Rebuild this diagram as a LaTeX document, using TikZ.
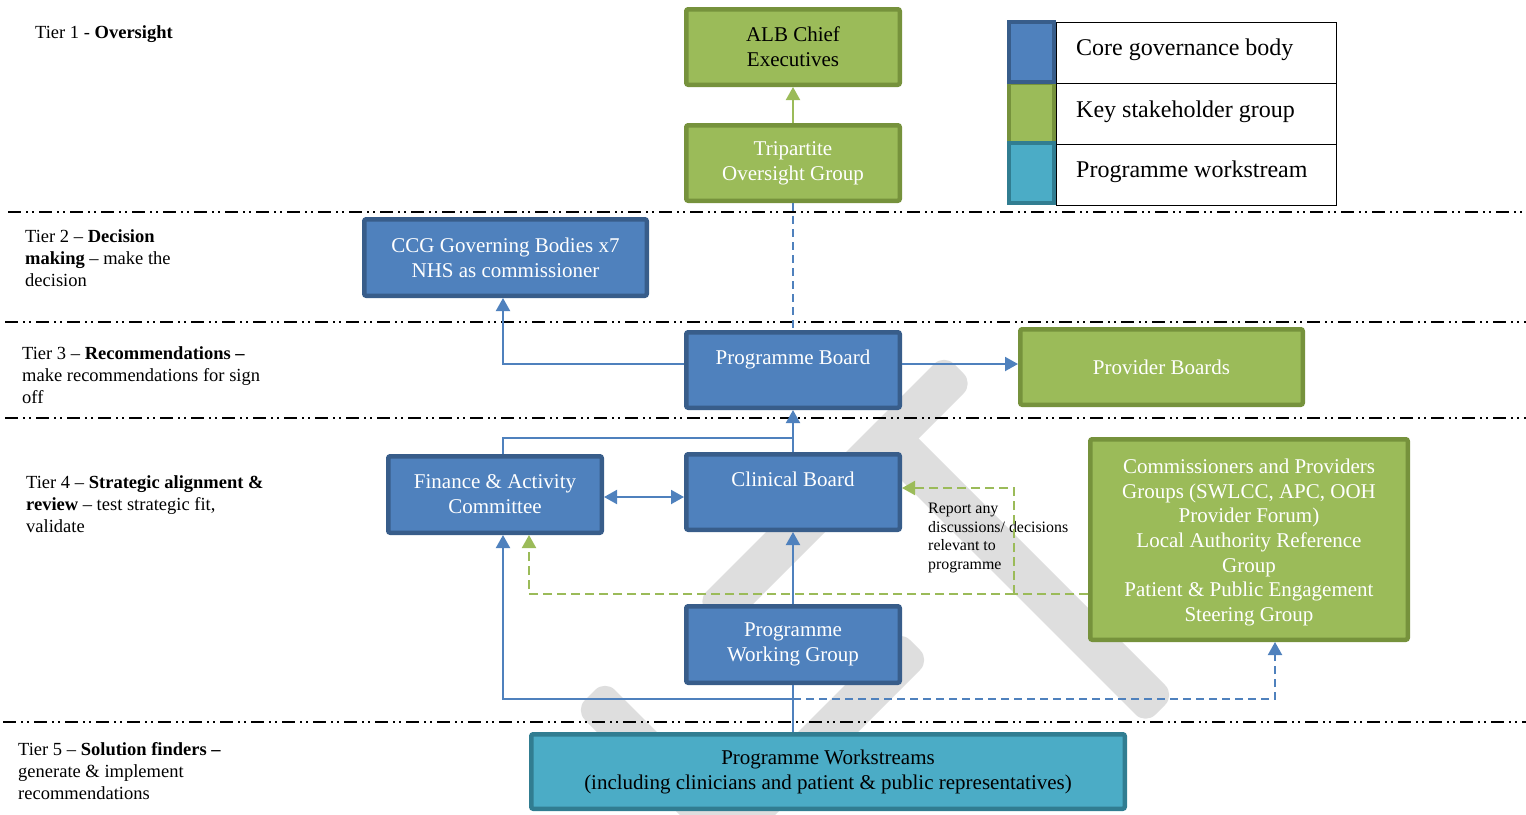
\documentclass[tikz,border=0pt]{standalone}
\usepackage{fontspec}
\setmainfont{Liberation Serif}
\usetikzlibrary{arrows.meta}
\definecolor{bfill}{RGB}{79,129,189}
\definecolor{bline}{RGB}{56,93,138}
\definecolor{gfill}{RGB}{155,187,89}
\definecolor{gline}{RGB}{118,146,60}
\definecolor{tfill}{RGB}{75,172,198}
\definecolor{tline}{RGB}{49,125,145}
\definecolor{wm}{RGB}{222,222,222}
\begin{document}
\begin{tikzpicture}[x=1pt,y=-1pt,
  box/.style={line width=4.5pt, rounded corners=2pt, inner sep=0pt, align=center,
    font=\fontsize{21}{25}\selectfont},
  bluebox/.style={box, draw=bline, fill=bfill, text=white},
  greenbox/.style={box, draw=gline, fill=gfill, text=white},
  tealbox/.style={box, draw=tline, fill=tfill, text=black},
  tierlbl/.style={anchor=west, inner sep=0pt, align=left, font=\fontsize{18.5}{22}\selectfont},
  tierline/.style={line width=2pt, black, dash pattern=on 13pt off 5pt on 2pt off 4pt on 2pt off 5pt},
  tip/.style={-{Triangle[length=13pt,width=14pt]}},
  tips/.style={{Triangle[length=13pt,width=14pt]}-{Triangle[length=13pt,width=14pt]}},
  bconn/.style={draw=bfill, line width=2pt},
  bdash/.style={bconn, dash pattern=on 8pt off 5pt},
  gdash/.style={draw=gfill, line width=2pt, dash pattern=on 9pt off 5pt},
  legsq/.style={line width=4pt, minimum width=45pt, minimum height=60pt, inner sep=0pt},
  legbox/.style={draw=black, line width=1pt, minimum width=280pt, minimum height=61pt, inner sep=0pt},
  legtxt/.style={anchor=west, inner sep=0pt, font=\fontsize{24}{28}\selectfont}
]
\useasboundingbox (0,0) rectangle (1526,814);
% watermark
\begin{scope}
\clip (0,0) rectangle (1526,814);
\fill[wm, rounded corners=14pt] (696.5,601.5) -- (726,631) -- (973.5,383.5) -- (944,354) -- cycle;
\fill[wm, rounded corners=14pt] (870.5,449.5) -- (900,420) -- (1175,695) -- (1145.5,724.5) -- cycle;
\fill[wm, rounded corners=14pt] (900,630) -- (930,660) -- (695,895) -- (665,865) -- cycle;
\fill[wm, rounded corners=14pt] (605,680) -- (762.5,837.5) -- (732.5,867.5) -- (575,710) -- cycle;
\end{scope}
% tier separators
\draw[tierline] (8,212) -- (1526,212);
\draw[tierline] (5,322) -- (1526,322);
\draw[tierline] (5,418) -- (1526,418);
\draw[tierline] (3,722) -- (1526,722);
% tier labels
\node[tierlbl] (t1) at (35,34.5) {Tier 1 - \textbf{Oversight}};
\node[tierlbl] (t2) at (25,258.5) {Tier 2 -- \textbf{Decision}\\\textbf{making} -- make the\\decision};
\node[tierlbl] (t3) at (22,375) {Tier 3 -- \textbf{Recommendations --}\\make recommendations for sign\\off};
\node[tierlbl] (t4) at (26,504) {Tier 4 -- \textbf{Strategic alignment \&}\\\textbf{review} -- test strategic fit,\\validate};
\node[tierlbl] (t5) at (18,771) {Tier 5 -- \textbf{Solution finders --}\\generate \& implement\\recommendations};
% boxes
\node[greenbox, text=black, minimum width=213.5pt, minimum height=75.5pt] (alb) at (793,47) {ALB Chief\\Executives};
\node[greenbox, minimum width=213.5pt, minimum height=75.5pt] (trip) at (793,163) {Tripartite\\Oversight Group};
\node[bluebox, minimum width=282.5pt, minimum height=76.5pt] (ccg) at (505.5,257.5) {CCG Governing Bodies x7\\NHS as commissioner};
\node[bluebox, minimum width=213.5pt, minimum height=75.5pt] (pb) at (793,370) {Programme Board\\\mbox{}};
\node[greenbox, minimum width=282.5pt, minimum height=75.5pt] (prov) at (1161.5,367) {Provider Boards};
\node[bluebox, minimum width=213.5pt, minimum height=76.5pt] (fin) at (495,494.5) {Finance \& Activity\\Committee};
\node[bluebox, minimum width=213.5pt, minimum height=75.5pt] (clin) at (793,492) {Clinical Board\\\mbox{}};
\node[greenbox, minimum width=317.5pt, minimum height=200.5pt] (comm) at (1249,539.5) {};
\node[inner sep=0pt, align=center, text=white, font=\fontsize{21}{24.7}\selectfont] (commtxt) at (1249,542.5)
  {Commissioners and Providers\\Groups (SWLCC, APC, OOH\\Provider Forum)\\Local Authority Reference\\Group\\Patient \& Public Engagement\\Steering Group};
\node[bluebox, minimum width=213.5pt, minimum height=76.5pt] (pwg) at (793,644.5) {Programme\\Working Group};
\node[tealbox, minimum width=593.5pt, minimum height=74.5pt] (ws) at (828,771.5) {Programme Workstreams\\(including clinicians and patient \& public representatives)};
% legend
\node[legsq, draw=gline, fill=gfill] (lg) at (1031.5,112.5) {};
\node[legsq, draw=bline, fill=bfill] (lb) at (1031.5,52) {};
\node[legsq, draw=tline, fill=tfill, minimum height=60pt] (lt) at (1031.5,173) {};
\node[legbox] (lb1) at (1196,52.5) {};
\node[legbox] (lb2) at (1196,113.5) {};
\node[legbox] (lb3) at (1196,174.5) {};
\node[legtxt] (lx1) at (1076,50) {Core governance body};
\node[legtxt] (lx2) at (1076,112) {Key stakeholder group};
\node[legtxt] (lx3) at (1076,172) {Programme workstream};
% report text
\node[anchor=west, inner sep=0pt, align=left, font=\fontsize{15.9}{18.8}\selectfont] (rep) at (928,538)
  {Report any\\discussions/ decisions\\relevant to\\programme};
% helper coordinates
\coordinate (c1) at (503,364);
\coordinate (c2) at (503,438);
\coordinate (c3) at (793,699);
\coordinate (c4) at (1275,699);
\coordinate (y497) at (0,497);
\coordinate (j) at (1014,594);
\coordinate (y488) at (0,488);
\coordinate (g1) at (529,594);
% connectors
\draw[draw=gfill, line width=2pt, tip] (trip.north) -- (alb.south);
\draw[bdash] (trip.south) -- (pb.north);
\draw[bconn, tip] (pb.west |- c1) -- (c1) -- (ccg.south -| c1);
\draw[bconn, tip] (pb.east |- c1) -- (prov.west |- c1);
\draw[bconn, tip] (clin.north) -- (pb.south);
\draw[bconn] (fin.north -| c2) -- (c2) -- (c2 -| clin.north);
\draw[bconn, tips] (fin.east |- y497) -- (clin.west |- y497);
\draw[bconn, tip] (pwg.north) -- (clin.south);
\draw[bconn] (ws.north -| pwg.south) -- (pwg.south);
\draw[bconn, tip] (c3) -- (c3 -| c2) -- (fin.south -| c2);
\draw[bdash, tip] (c3) -- (c4) -- (comm.south -| c4);
\draw[gdash] (comm.west |- j) -- (j);
\draw[gdash, tip] (j) -- (j |- y488) -- (clin.east |- y488);
\draw[gdash, tip] (j) -- (g1) -- (fin.south -| g1);
\end{tikzpicture}
\end{document}
